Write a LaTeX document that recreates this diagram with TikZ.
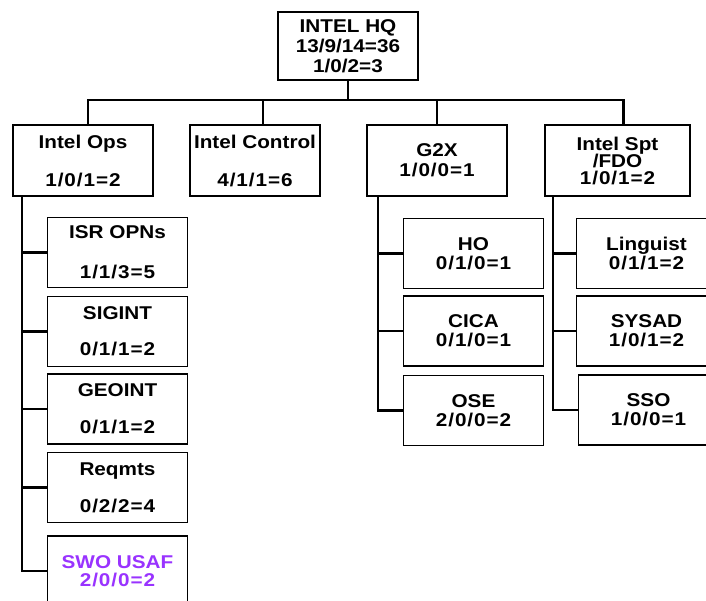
\documentclass[tikz,border=0pt]{standalone}
\usepackage{fontspec}
\setmainfont{Liberation Sans}[FakeStretch=1.12]
\usepackage{tikz}
\usepackage{xcolor}
\definecolor{swopurple}{RGB}{153,51,255}
\newcommand{\cnt}[1]{{\addfontfeature{LetterSpace=5}#1}}

\begin{document}
\begin{tikzpicture}[x=1pt,y=-1pt,font=\bfseries\fontsize{18.5}{20}\selectfont,
  box/.style={draw,line width=1.1pt,inner sep=0pt,align=center,minimum width=140pt,minimum height=70pt},
  link/.style={line width=2.8pt,line cap=rect}]
\useasboundingbox (0,0) rectangle (706,600);
\clip (0,0) rectangle (706,600);
\node[box,minimum height=68pt] (hq) at (348,46) {INTEL HQ\\13/9/14=36\\1/0/2=3};
\node[box,minimum height=71pt] (ops) at (83,160.5) {Intel Ops\\[18pt]\cnt{1/0/1=2}};
\node[box,minimum height=71pt,minimum width=130pt] (ctrl) at (255,160.5) {Intel Control\\[18pt]\cnt{4/1/1=6}};
\node[box,minimum height=71pt] (gtwo) at (437,160.5) {G2X\\\cnt{1/0/0=1}};
\node[box,minimum height=71pt,minimum width=145pt] (spt) at (617.5,160.5) {Intel Spt\\[-3pt]/FDO\\[-3pt]\cnt{1/0/1=2}};
\node[box] (isr) at (117.5,252.5) {ISR OPNs\\[20pt]\cnt{1/1/3=5}};
\node[box] (sigint) at (117.5,331.5) {SIGINT\\[16pt]\cnt{0/1/1=2}};
\node[box] (geoint) at (117.5,409) {GEOINT\\[17pt]\cnt{0/1/1=2}};
\node[box] (reqmts) at (117.5,487.5) {Reqmts\\[17pt]\cnt{0/2/2=4}};
\node[box,text=swopurple] (swo) at (117.5,571) {SWO USAF\\[-2pt]\cnt{2/0/0=2}};
\node[box] (ho) at (473.5,253.5) {HO\\[-1pt]\cnt{0/1/0=1}};
\node[box] (cica) at (473.5,331) {CICA\\[-1pt]\cnt{0/1/0=1}};
\node[box] (ose) at (473.5,410.5) {OSE\\[-1pt]\cnt{2/0/0=2}};
\node[box] (ling) at (646.5,253.5) {Linguist\\[-1pt]\cnt{0/1/1=2}};
\node[box] (sysad) at (646.5,331) {SYSAD\\[-1pt]\cnt{1/0/1=2}};
\node[box] (sso) at (648.5,410) {SSO\\[-1pt]\cnt{1/0/0=1}};
\coordinate (bus) at (0,100);
\coordinate (opsline) at (22,0);
\coordinate (gline) at (378,0);
\coordinate (sline) at (553,0);
\draw[link] (hq.south) -- (hq.south |- bus);
\draw[link] ([xshift=5pt]ops.north |- bus) -- ([xshift=6pt]spt.north |- bus);
\foreach \n/\dx in {ops/5,ctrl/8,gtwo/0,spt/6}
  \draw[link] ([xshift=\dx pt]\n.north) -- ([xshift=\dx pt]\n.north |- bus);
\draw[link] (ops.south -| opsline) -- (swo.west -| opsline);
\foreach \n in {isr,sigint,geoint,reqmts,swo}
  \draw[link] (\n.west) -- (\n.west -| opsline);
\draw[link] (gtwo.south -| gline) -- (ose.west -| gline);
\foreach \n in {ho,cica,ose}
  \draw[link] (\n.west) -- (\n.west -| gline);
\draw[link] (spt.south -| sline) -- (sso.west -| sline);
\foreach \n in {ling,sysad,sso}
  \draw[link] (\n.west) -- (\n.west -| sline);
\end{tikzpicture}
\end{document}
